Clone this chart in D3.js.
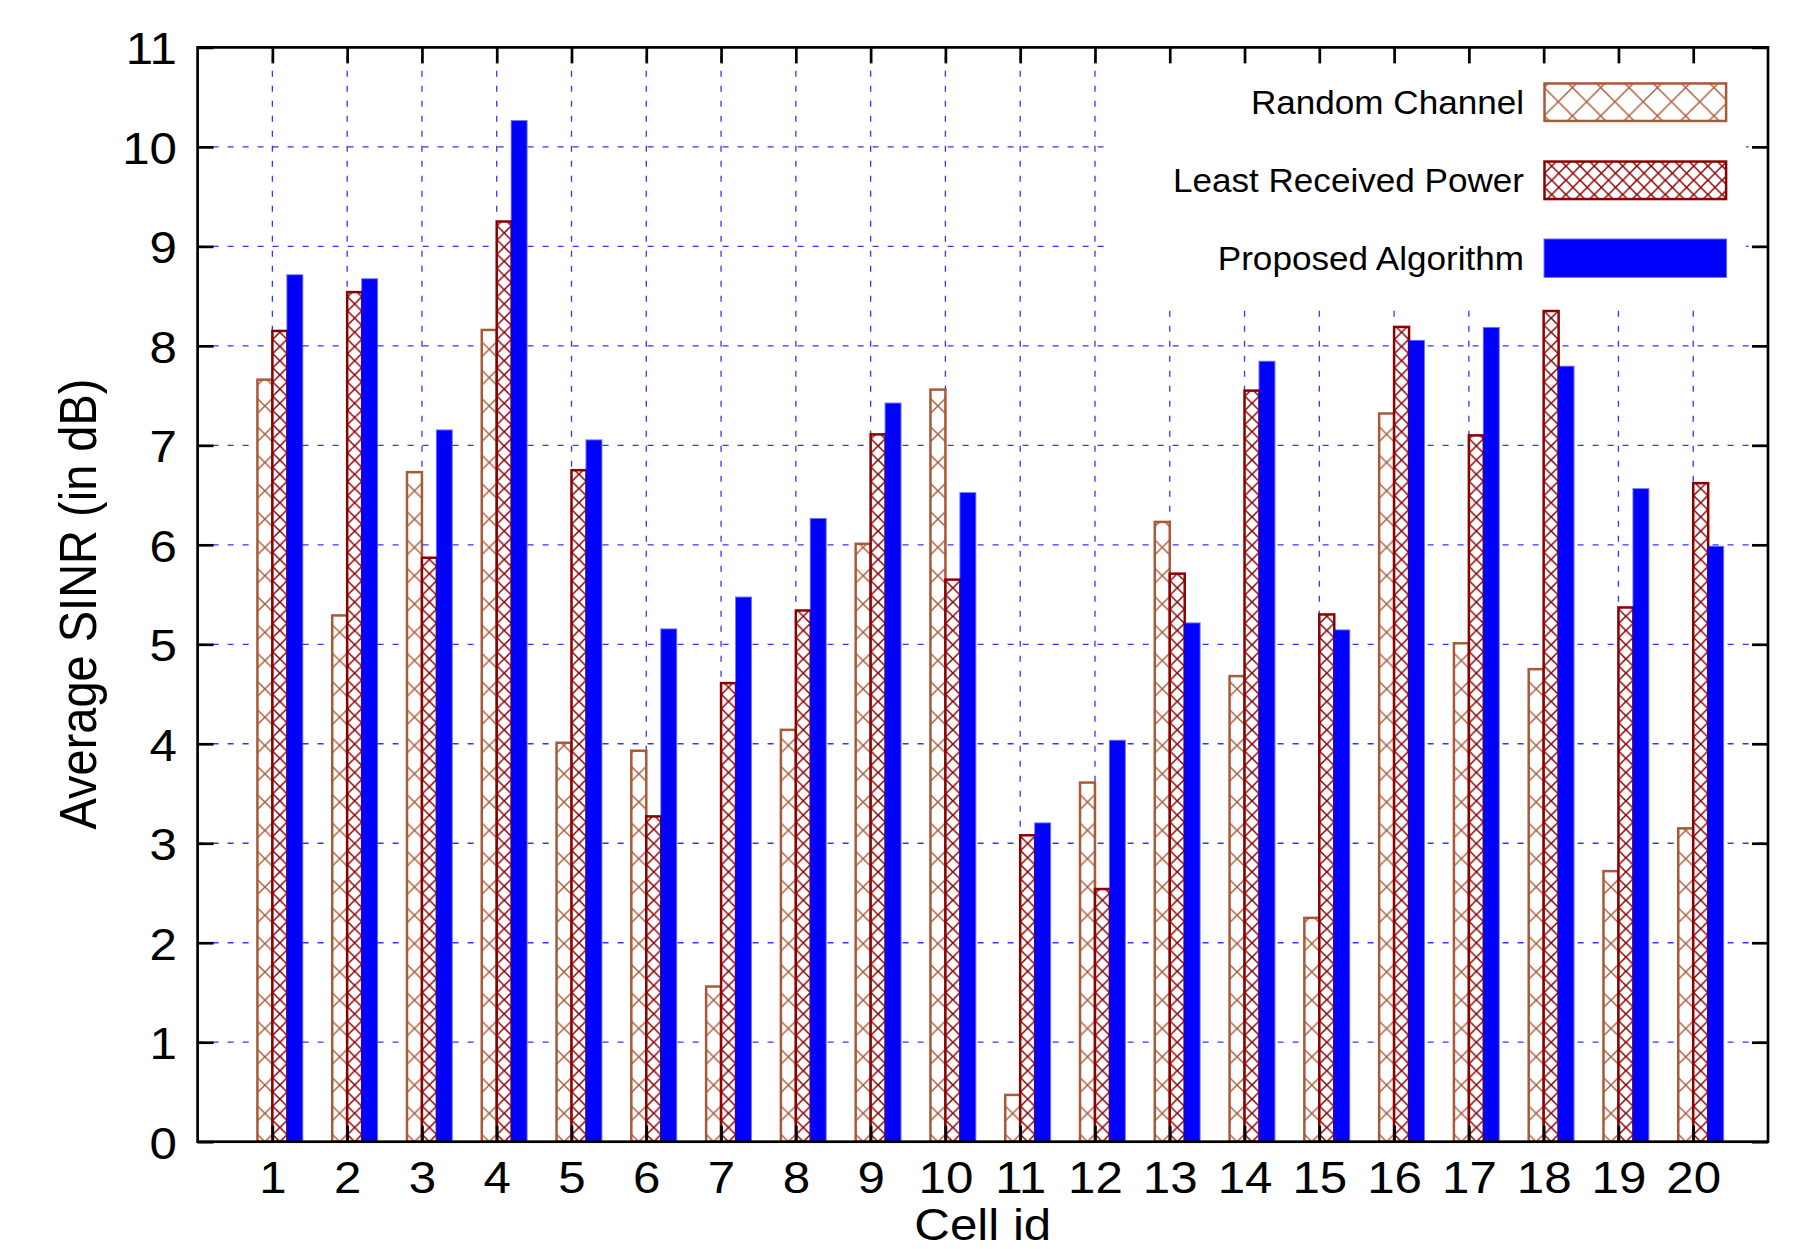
<!DOCTYPE html>
<html>
<head>
<meta charset="utf-8">
<script src="https://cdn.jsdelivr.net/npm/d3@7"></script>
<style>
html, body { margin: 0; padding: 0; background: #fff; }
svg { display: block; }
</style>
</head>
<body>
<svg id="chart" width="1812" height="1249"></svg>
<script>
// ---------------- data ----------------
const cells = [1, 2, 3, 4, 5, 6, 7, 8, 9, 10, 11, 12, 13, 14, 15, 16, 17, 18, 19, 20];
const randomChannel = [7.66, 5.29, 6.73, 8.16, 4.01, 3.93, 1.56, 4.14, 6.01, 7.56, 0.47, 3.61, 6.23, 4.68, 2.25, 7.32, 5.01, 4.75, 2.72, 3.15];
const leastReceivedPower = [8.15, 8.54, 5.87, 9.25, 6.75, 3.27, 4.61, 5.34, 7.11, 5.65, 3.08, 2.54, 5.71, 7.55, 5.30, 8.19, 7.10, 8.35, 5.37, 6.62];
const proposedAlgorithm = [8.71, 8.67, 7.15, 10.26, 7.05, 5.15, 5.47, 6.26, 7.42, 6.52, 3.20, 4.03, 5.21, 7.84, 5.14, 8.05, 8.18, 7.79, 6.56, 5.98];
const yTickValues = [0, 1, 2, 3, 4, 5, 6, 7, 8, 9, 10, 11];
const yGridValues = [1, 2, 3, 4, 5, 6, 7, 8, 9, 10];
const seriesNames = ["Random Channel", "Least Received Power", "Proposed Algorithm"];
const xLabel = "Cell id";
const yLabel = "Average SINR (in dB)";

// ---------------- layout ----------------
const pL = 197.6, pR = 1768, pT = 47.4, pB = 1141.7;
const FONT = "'Liberation Sans', Arial, Helvetica, sans-serif";
const SX = 1.12; // horizontal text stretch seen in the reference
const colRandom = "#a85a38", colLeast = "#8b0000", colBlue = "#0000ff";
const barW = 0.2;
const dRandom = 28.3, dLeast = 14.2;

const svg = d3.select("#chart");
const x = d3.scaleLinear().domain([0, 21]).range([pL, pR]);
const y = d3.scaleLinear().domain([0, 11]).range([pB, pT]);

const defs = svg.append("defs");
function hatch(id, d, color, lw, tx, ty) {
  const p = defs.append("pattern")
    .attr("id", id)
    .attr("patternUnits", "userSpaceOnUse")
    .attr("width", d).attr("height", d)
    .attr("patternTransform", `translate(${tx},${ty})`);
  p.append("rect").attr("width", d).attr("height", d).attr("fill", "#fff");
  p.append("path")
    .attr("d", `M0,0L${d},${d}M${d},0L0,${d}`)
    .attr("stroke", color).attr("stroke-width", lw).attr("fill", "none");
}

// ---------------- grid ----------------
const grid = svg.append("g");
grid.selectAll("line.v").data(cells).join("line")
  .attr("x1", d => x(d)).attr("x2", d => x(d))
  .attr("y1", pB).attr("y2", pT)
  .attr("stroke", colBlue).attr("stroke-opacity", 0.8)
  .attr("stroke-width", 1.3).attr("stroke-dasharray", "6,9");
grid.selectAll("line.h").data(yGridValues).join("line")
  .attr("x1", pL).attr("x2", pR)
  .attr("y1", d => y(d)).attr("y2", d => y(d))
  .attr("stroke", colBlue).attr("stroke-opacity", 0.8)
  .attr("stroke-width", 1.3).attr("stroke-dasharray", "6,9");

// ---------------- bars ----------------
const bars = svg.append("g");
const rData = cells.map((c, i) => ({ c, v: randomChannel[i] }));
const lData = cells.map((c, i) => ({ c, v: leastReceivedPower[i] }));
const pData = cells.map((c, i) => ({ c, v: proposedAlgorithm[i] }));

rData.forEach(d => hatch("pr" + d.c, dRandom, colRandom, 1.4, x(d.c - barW / 2), y(0)));
lData.forEach(d => hatch("pl" + d.c, dLeast, colLeast, 1.5, x(d.c + barW / 2), y(0)));

bars.selectAll("rect.r").data(rData).join("rect")
  .attr("x", d => x(d.c - barW)).attr("width", d => x(d.c) - x(d.c - barW))
  .attr("y", d => y(d.v)).attr("height", d => y(0) - y(d.v))
  .attr("fill", d => `url(#pr${d.c})`)
  .attr("stroke", colRandom).attr("stroke-width", 2.5);
bars.selectAll("rect.l").data(lData).join("rect")
  .attr("x", d => x(d.c)).attr("width", d => x(d.c + barW) - x(d.c))
  .attr("y", d => y(d.v)).attr("height", d => y(0) - y(d.v))
  .attr("fill", d => `url(#pl${d.c})`)
  .attr("stroke", colLeast).attr("stroke-width", 2.5);
bars.selectAll("rect.p").data(pData).join("rect")
  .attr("x", d => x(d.c + barW)).attr("width", d => x(d.c + 2 * barW) - x(d.c + barW))
  .attr("y", d => y(d.v)).attr("height", d => y(0) - y(d.v))
  .attr("fill", colBlue)
  .attr("stroke", colBlue).attr("stroke-opacity", 0.55).attr("stroke-width", 2);

// ---------------- legend ----------------
const lg = svg.append("g");
lg.append("rect").attr("x", 1108).attr("y", pT).attr("width", 1746 - 1108).attr("height", 306.7 - pT)
  .attr("fill", "#fff");
const keyX = 1544.5, keyW = 181.6, keyH = 37.5;
const keyCy = [102.2, 180.3, 258.2];
const textBase = [114, 191.7, 270];
hatch("lgR", dRandom, colRandom, 1.4, 1558.3, 101.7);
hatch("lgL", dLeast, colLeast, 1.5, 1551.7, 180.3);
const keyFill = ["url(#lgR)", "url(#lgL)", colBlue];
const keyStroke = [colRandom, colLeast, colBlue];
seriesNames.forEach((name, i) => {
  lg.append("rect")
    .attr("x", keyX).attr("y", keyCy[i] - keyH / 2)
    .attr("width", keyW).attr("height", keyH)
    .attr("fill", keyFill[i]).attr("stroke", keyStroke[i])
    .attr("stroke-opacity", i === 2 ? 0.55 : 1)
    .attr("stroke-width", i === 2 ? 2 : 2.5);
  lg.append("text")
    .attr("transform", `translate(1524,${textBase[i]}) scale(1.08,1)`)
    .attr("text-anchor", "end")
    .attr("font-family", FONT).attr("font-size", 32.5).attr("fill", "#000")
    .text(name);
});

// ---------------- frame ----------------
svg.append("rect").attr("x", pL).attr("y", pT)
  .attr("width", pR - pL).attr("height", pB - pT)
  .attr("fill", "none").attr("stroke", "#000").attr("stroke-width", 2.7);

// ---------------- axes (inward ticks) ----------------
const TL = 16;
function styleAxis(g, keepText) {
  g.select(".domain").remove();
  g.selectAll(".tick line").attr("stroke", "#000").attr("stroke-width", 2.7);
  if (!keepText) g.selectAll(".tick text").remove();
}
const axB = svg.append("g").attr("transform", `translate(0,${pB})`)
  .call(d3.axisBottom(x).tickValues(cells).tickFormat(d3.format("d")).tickSizeInner(-TL).tickSizeOuter(0).tickPadding(20));
styleAxis(axB, true);
axB.selectAll(".tick text")
  .attr("font-family", FONT).attr("font-size", 44).attr("fill", "#000")
  .attr("transform", `scale(${SX},1)`);

const axT = svg.append("g").attr("transform", `translate(0,${pT})`)
  .call(d3.axisTop(x).tickValues(cells).tickSizeInner(-TL).tickSizeOuter(0));
styleAxis(axT, false);

const axL = svg.append("g").attr("transform", `translate(${pL},0)`)
  .call(d3.axisLeft(y).tickValues(yTickValues).tickFormat(d3.format("d")).tickSizeInner(-TL).tickSizeOuter(0).tickPadding(18.4));
styleAxis(axL, true);
axL.selectAll(".tick text")
  .attr("font-family", FONT).attr("font-size", 44).attr("fill", "#000")
  .attr("dy", "0.375em")
  .attr("transform", `scale(${SX},1)`);

const axR = svg.append("g").attr("transform", `translate(${pR},0)`)
  .call(d3.axisRight(y).tickValues(yTickValues).tickSizeInner(-TL).tickSizeOuter(0));
styleAxis(axR, false);

// ---------------- axis titles ----------------
svg.append("text")
  .attr("transform", `translate(${(pL + pR) / 2},1240) scale(${SX},1)`)
  .attr("text-anchor", "middle")
  .attr("font-family", FONT).attr("font-size", 44).attr("fill", "#000")
  .text(xLabel);
svg.append("text")
  .attr("transform", `translate(96,604) scale(${SX},1) rotate(-90)`)
  .attr("text-anchor", "middle")
  .attr("font-family", FONT).attr("font-size", 47).attr("fill", "#000")
  .text(yLabel);
</script>
</body>
</html>
